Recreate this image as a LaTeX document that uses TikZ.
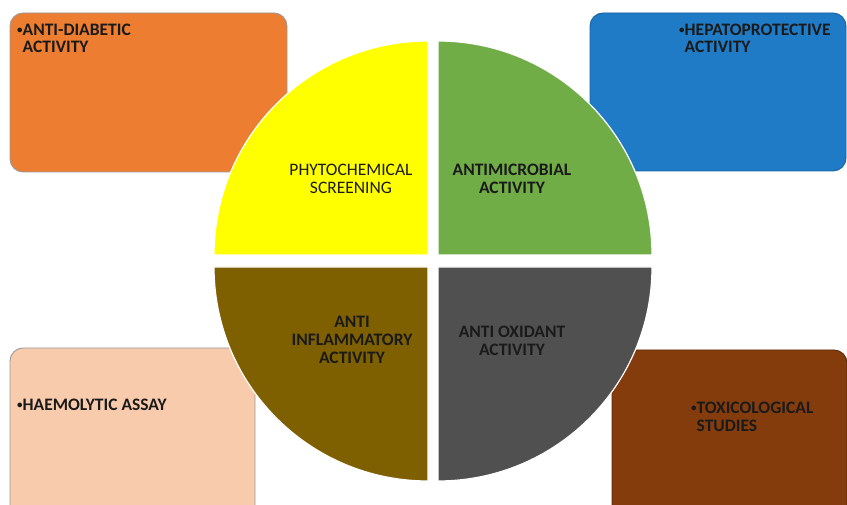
\documentclass[tikz,border=0pt]{standalone}
\usepackage{fontspec}
\setmainfont{Carlito}
\definecolor{orangebox}{HTML}{ED7D31}
\definecolor{bluebox}{HTML}{1F7BC6}
\definecolor{peachbox}{HTML}{F8CBAD}
\definecolor{rustbox}{HTML}{843C0C}
\definecolor{qyellow}{HTML}{FFFF00}
\definecolor{qgreen}{HTML}{70AD47}
\definecolor{qolive}{HTML}{7F6000}
\definecolor{qgray}{HTML}{505050}
\definecolor{inkdark}{HTML}{1A1A1A}
\definecolor{edgegray}{HTML}{9A9A9A}
% small list bullet, and an invisible one of the same width for indents
\newcommand\listbul{\raisebox{2.4pt}{\fontsize{11}{11}\selectfont •}}
\newcommand\listgap{\phantom{\listbul}}
\tikzset{
  sidebox/.style={draw=edgegray, line width=0.9pt, rounded corners=13pt},
  quarter/.style={draw=white, line width=1.2pt},
  bullettext/.style={font=\fontsize{17.5}{17.5}\selectfont\bfseries, text=inkdark,
    align=left, anchor=west, inner sep=0pt},
  quartertext/.style={font=\fontsize{17.5}{18}\selectfont\bfseries, text=inkdark,
    align=center, inner sep=0pt},
}
\begin{document}
\begin{tikzpicture}[x=1pt,y=1pt]
\useasboundingbox (0,0) rectangle (847,504);

% four side boxes
\draw[sidebox, fill=orangebox] (10,332) rectangle (287,491);
\draw[sidebox, fill=bluebox, draw=bluebox!80!black] (590,333) rectangle (846,491);
\draw[sidebox, fill=peachbox] (10,-14) rectangle (255,156);
\draw[sidebox, fill=rustbox, draw=rustbox!70!black] (612,-14) rectangle (847,154);

% the four quadrants of the central disc
\fill[fill=qyellow] (428,249) -- (214,249) arc[start angle=180, end angle=90, radius=214] -- cycle;
\fill[fill=qgreen] (438,249) -- (438,463) arc[start angle=90, end angle=0, radius=214] -- cycle;
\fill[fill=qolive] (428,237) -- (214,237) arc[start angle=180, end angle=270, radius=214] -- cycle;
\fill[fill=qgray] (438,237) -- (652,237) arc[start angle=0, end angle=-90, radius=214] -- cycle;
\draw[quarter] (428,249) -- (214,249) arc[start angle=180, end angle=90, radius=214] -- cycle;
\draw[quarter] (438,249) -- (438,463) arc[start angle=90, end angle=0, radius=214] -- cycle;
\draw[quarter] (428,237) -- (214,237) arc[start angle=180, end angle=270, radius=214] -- cycle;
\draw[quarter] (438,237) -- (652,237) arc[start angle=0, end angle=-90, radius=214] -- cycle;

% box labels
\node[bullettext] (diab) at (17,465.5) {\listbul ANTI-DIABETIC\\\listgap ACTIVITY};
\node[bullettext] (hepa) at (679,465.5) {\listbul HEPATOPROTECTIVE\\\listgap ACTIVITY};
\node[bullettext] (haem) at (17,99) {\listbul HAEMOLYTIC ASSAY};
\node[bullettext] (toxi) at (691,87) {\listbul TOXICOLOGICAL\\\listgap STUDIES};

% quadrant labels
\node[quartertext, font=\fontsize{17.5}{18}\selectfont] (phyto) at (351,325) {PHYTOCHEMICAL\\SCREENING};
\node[quartertext] (micro) at (512,325) {ANTIMICROBIAL\\ACTIVITY};
\node[quartertext] (infl) at (352,164) {ANTI\\INFLAMMATORY\\ACTIVITY};
\node[quartertext] (oxid) at (512,163) {ANTI OXIDANT\\ACTIVITY};
\end{tikzpicture}
\end{document}
